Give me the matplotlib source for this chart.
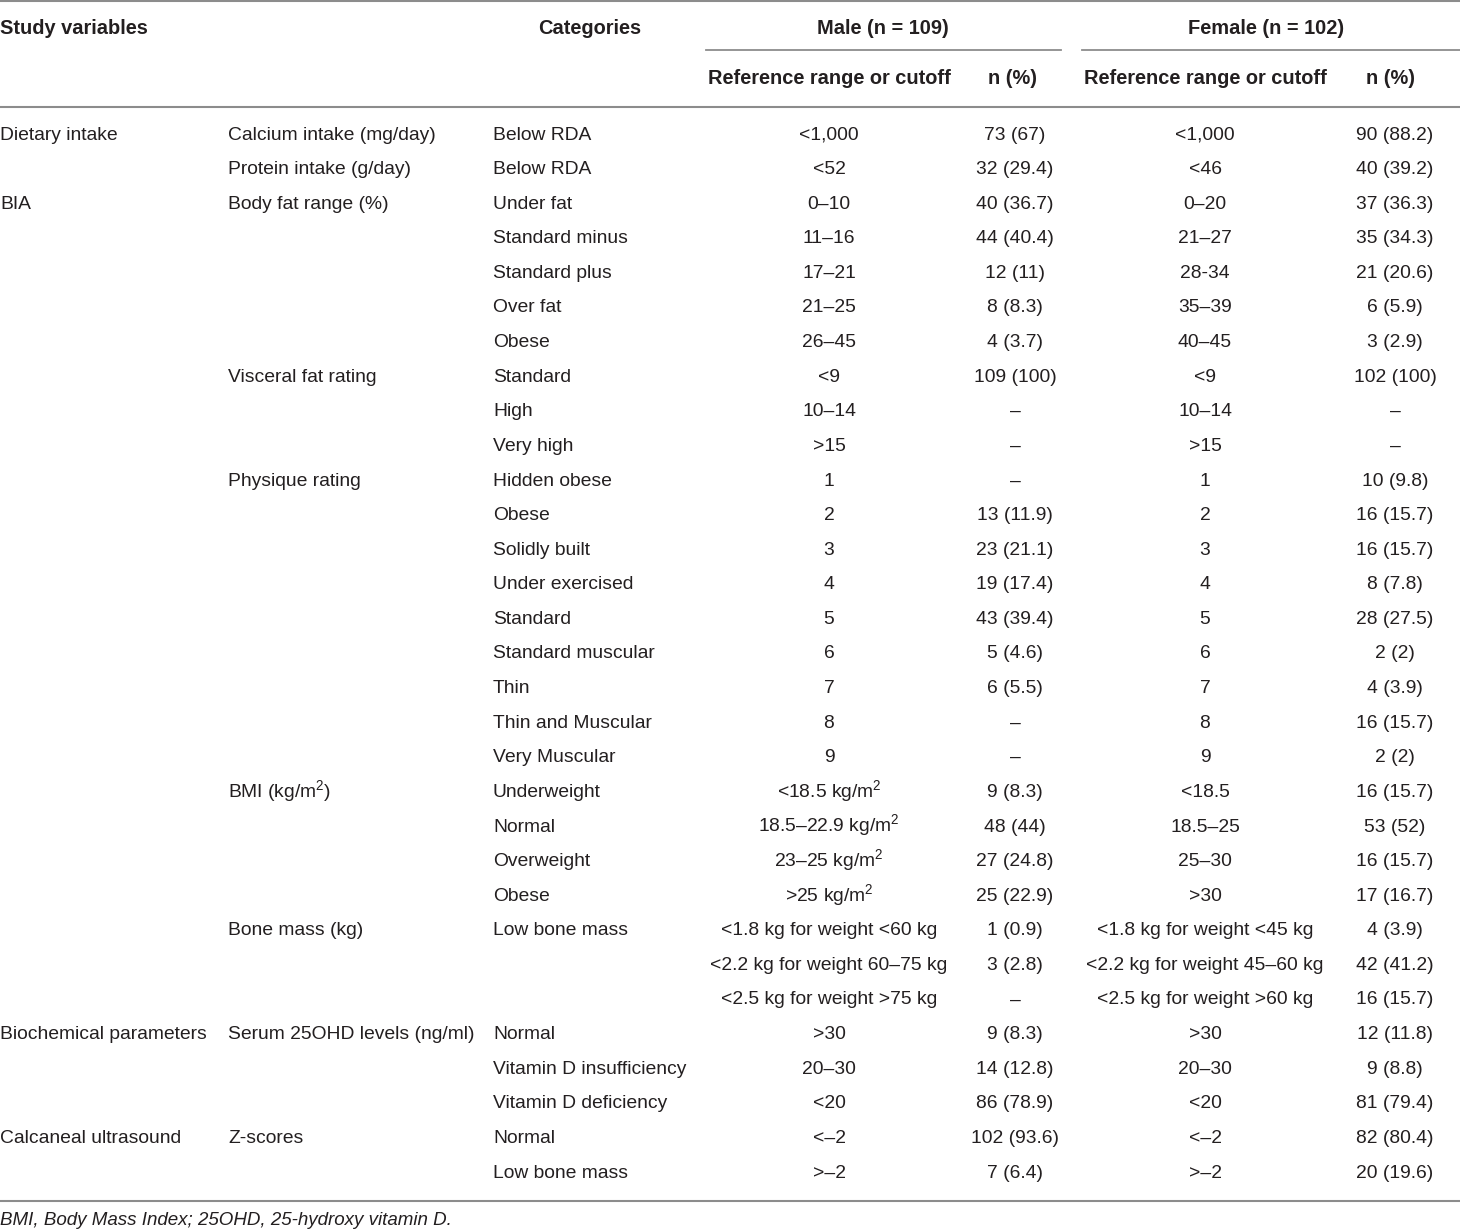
import matplotlib.pyplot as plt

plt.rcParams['font.family'] = ['Liberation Sans', 'DejaVu Sans']
plt.rcParams['mathtext.fontset'] = 'custom'
plt.rcParams['mathtext.rm'] = 'Liberation Sans'
plt.rcParams['mathtext.default'] = 'rm'

# table content, one entry per row
study_vars = ["Dietary intake", "", "BIA"] + [""] * 23 + \
             ["Biochemical parameters", "", "", "Calcaneal ultrasound", ""]
sub_vars = ["Calcium intake (mg/day)", "Protein intake (g/day)",
            "Body fat range (%)", "", "", "", "",
            "Visceral fat rating", "", "",
            "Physique rating", "", "", "", "", "", "", "", "",
            "BMI (kg/m$^2$)", "", "", "",
            "Bone mass (kg)", "", "",
            "Serum 25OHD levels (ng/ml)", "", "",
            "Z-scores", ""]
categories = ["Below RDA", "Below RDA",
              "Under fat", "Standard minus", "Standard plus", "Over fat", "Obese",
              "Standard", "High", "Very high",
              "Hidden obese", "Obese", "Solidly built", "Under exercised", "Standard",
              "Standard muscular", "Thin", "Thin and Muscular", "Very Muscular",
              "Underweight", "Normal", "Overweight", "Obese",
              "Low bone mass", "", "",
              "Normal", "Vitamin D insufficiency", "Vitamin D deficiency",
              "Normal", "Low bone mass"]
male_ref = ["<1,000", "<52",
            "0–10", "11–16", "17–21", "21–25", "26–45",
            "<9", "10–14", ">15",
            "1", "2", "3", "4", "5", "6", "7", "8", "9",
            "<18.5 kg/m$^2$", "18.5–22.9 kg/m$^2$", "23–25 kg/m$^2$", ">25 kg/m$^2$",
            "<1.8 kg for weight <60 kg", "<2.2 kg for weight 60–75 kg",
            "<2.5 kg for weight >75 kg",
            ">30", "20–30", "<20",
            "<–2", ">–2"]
male_n = ["73 (67)", "32 (29.4)",
          "40 (36.7)", "44 (40.4)", "12 (11)", "8 (8.3)", "4 (3.7)",
          "109 (100)", "–", "–",
          "–", "13 (11.9)", "23 (21.1)", "19 (17.4)", "43 (39.4)", "5 (4.6)",
          "6 (5.5)", "–", "–",
          "9 (8.3)", "48 (44)", "27 (24.8)", "25 (22.9)",
          "1 (0.9)", "3 (2.8)", "–",
          "9 (8.3)", "14 (12.8)", "86 (78.9)",
          "102 (93.6)", "7 (6.4)"]
female_ref = ["<1,000", "<46",
              "0–20", "21–27", "28-34", "35–39", "40–45",
              "<9", "10–14", ">15",
              "1", "2", "3", "4", "5", "6", "7", "8", "9",
              "<18.5", "18.5–25", "25–30", ">30",
              "<1.8 kg for weight <45 kg", "<2.2 kg for weight 45–60 kg",
              "<2.5 kg for weight >60 kg",
              ">30", "20–30", "<20",
              "<–2", ">–2"]
female_n = ["90 (88.2)", "40 (39.2)",
            "37 (36.3)", "35 (34.3)", "21 (20.6)", "6 (5.9)", "3 (2.9)",
            "102 (100)", "–", "–",
            "10 (9.8)", "16 (15.7)", "16 (15.7)", "8 (7.8)", "28 (27.5)", "2 (2)",
            "4 (3.9)", "16 (15.7)", "2 (2)",
            "16 (15.7)", "53 (52)", "16 (15.7)", "17 (16.7)",
            "4 (3.9)", "42 (41.2)", "16 (15.7)",
            "12 (11.8)", "9 (8.8)", "81 (79.4)",
            "82 (80.4)", "20 (19.6)"]
footnote = "BMI, Body Mass Index; 25OHD, 25-hydroxy vitamin D."

W, H = 1460, 1232
fig = plt.figure(figsize=(W / 100, H / 100), dpi=100)
ax = fig.add_axes([0, 0, 1, 1])
ax.set_xlim(0, W)
ax.set_ylim(H, 0)
ax.axis('off')

txt = '#231f20'
line_c = '#8c8c8c'
fs = 13.9

# rules
ax.plot([0, W], [1, 1], color=line_c, lw=1.5)
ax.plot([706, 1061], [50, 50], color=line_c, lw=1.3)
ax.plot([1082, W], [50, 50], color=line_c, lw=1.3)
ax.plot([0, W], [107, 107], color=line_c, lw=1.5)
ax.plot([0, W], [1201, 1201], color=line_c, lw=1.5)

# header
hdr = dict(fontsize=14.4, fontweight='bold', color=txt, va='baseline')
ax.text(0, 34, "Study variables", ha='left', **hdr)
ax.text(590, 34, "Categories", ha='center', **hdr)
ax.text(883, 34, "Male (n = 109)", ha='center', **hdr)
ax.text(1266, 34, "Female (n = 102)", ha='center', **hdr)
ax.text(829, 84, "Reference range or cutoff", ha='center', **hdr)
ax.text(1013, 84, "n (%)", ha='center', **hdr)
ax.text(1205, 84, "Reference range or cutoff", ha='center', **hdr)
ax.text(1390, 84, "n (%)", ha='center', **hdr)

# body rows (baseline positions)
y0, dy = 139.5, 34.6
body = dict(fontsize=fs, color=txt, va='baseline')
for i in range(len(categories)):
    y = y0 + i * dy
    ax.text(0, y, study_vars[i], ha='left', **body)
    ax.text(228, y, sub_vars[i], ha='left', **body)
    ax.text(493, y, categories[i], ha='left', **body)
    ax.text(829, y, male_ref[i], ha='center', **body)
    ax.text(1015, y, male_n[i], ha='center', **body)
    ax.text(1205, y, female_ref[i], ha='center', **body)
    ax.text(1395, y, female_n[i], ha='center', **body)

ax.text(0, 1225, footnote, ha='left', fontsize=fs - 0.4, style='italic',
        color=txt, va='baseline')

fig.savefig("out.png", dpi=100)
